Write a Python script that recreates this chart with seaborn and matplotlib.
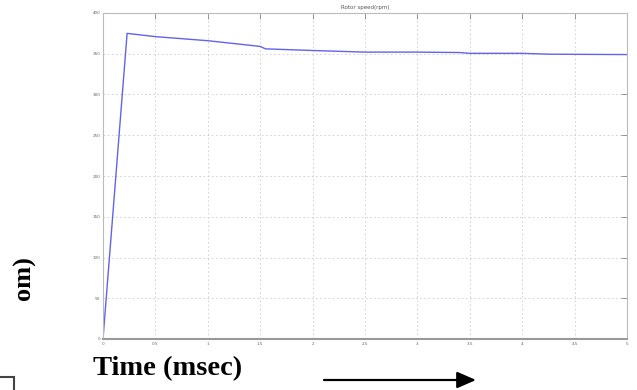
import matplotlib
matplotlib.use("Agg")
import matplotlib.pyplot as plt
import seaborn as sns
import pandas as pd
from matplotlib.patches import FancyArrowPatch, Rectangle

# data
time_ms = [0, 0.23, 0.5, 1.0, 1.5, 1.55, 2.0, 2.5, 3.0, 3.4, 3.5, 4.0, 4.25, 4.5, 5.0]
speed = [0, 375, 371, 366, 359, 356, 354, 352, 352, 351.5, 350.5, 350.5, 349.5, 349.3, 349]
x_ticks = [0, 0.5, 1, 1.5, 2, 2.5, 3, 3.5, 4, 4.5, 5]
x_tick_labels = ["0", "0.5", "1", "1.5", "2", "2.5", "3", "3.5", "4", "4.5", "5"]
y_ticks = [0, 50, 100, 150, 200, 250, 300, 350, 400]
y_tick_labels = ["0", "50", "100", "150", "200", "250", "300", "350", "400"]
title = "Rotor speed(rpm)"

sns.set_style("white")
df = pd.DataFrame({"t": time_ms, "w": speed})

fig = plt.figure(figsize=(6.37, 3.90), dpi=100)
ax = fig.add_axes([103/637, 1-339/390, (627-103)/637, (339-13)/390])
sns.lineplot(data=df, x="t", y="w", ax=ax, color="#6262ec", linewidth=1.0, sort=False)

ax.set_xlim(0, 5)
ax.set_ylim(0, 400)
ax.set_xticks(x_ticks)
ax.set_xticklabels(x_tick_labels)
ax.set_yticks(y_ticks)
ax.set_yticklabels(y_tick_labels)
ax.set_xlabel("")
ax.set_ylabel("")
ax.tick_params(axis="both", direction="in", length=4, width=0.6, colors="#888888",
               labelsize=3, labelcolor="#666666", top=True, right=True, pad=2)
ax.grid(True, linestyle=(0, (2, 3)), color="#cccccc", linewidth=0.6)
for s in ["left", "top", "right"]:
    ax.spines[s].set_color("#bbbbbb")
    ax.spines[s].set_linewidth(0.8)
ax.spines["bottom"].set_color("#999999")
ax.spines["bottom"].set_linewidth(1.5)
ax.set_title(title, fontsize=4, color="#555555", pad=3)

# annotations around the plot
fig.text(93/637, 1-369/390, "Time (msec)", fontsize=20.5, fontweight="bold",
         family="Liberation Serif", va="center", ha="left", color="black")
fig.text(24/637, 1-278/390, "om)", fontsize=19, fontweight="bold",
         family="Liberation Serif", rotation=90, va="center", ha="center", color="black")
arrow = FancyArrowPatch((324/637, 1-380/390), (476/637, 1-380/390),
                        transform=fig.transFigure,
                        arrowstyle="-|>,head_length=4.6,head_width=2.0",
                        mutation_scale=2.5, color="black", linewidth=1.6,
                        shrinkA=0, shrinkB=0)
fig.add_artist(arrow)
fig.add_artist(Rectangle((-0.02, -0.02), 14/637 + 0.02, (390-377)/390 + 0.02,
                         transform=fig.transFigure, fill=False, edgecolor="#444444", linewidth=1.5))

fig.savefig("out.png", dpi=100)
